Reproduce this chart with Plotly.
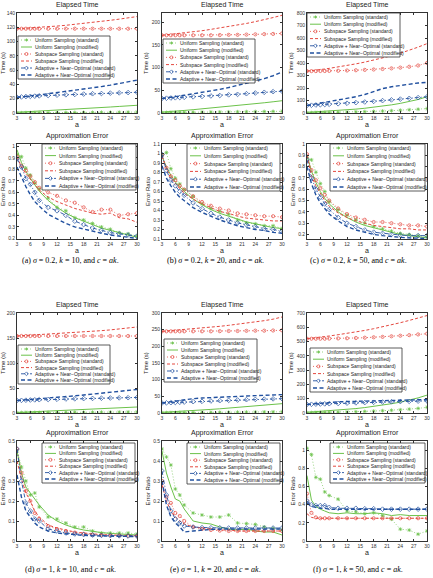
import plotly.graph_objects as go

W, H = 433, 578
A = [3, 4, 5, 6, 7, 8, 10, 12, 14, 16, 18, 20, 22, 24, 26, 28, 30]
X_TICKS = [3, 6, 9, 12, 15, 18, 21, 24, 27, 30]

LABELS = ["Uniform Sampling (standard)", "Uniform Sampling (modified)",
          "Subspace Sampling (standard)", "Subspace Sampling (modified)",
          "Adaptive + Near\u2212Optimal (standard)", "Adaptive + Near\u2212Optimal (modified)"]

# ---------------- (a) sigma=0.2, k=10 ----------------
TA_US = [0.3, 0.3, 0.4, 0.4, 0.4, 0.5, 0.5, 0.6, 0.7, 0.7, 0.8, 0.9, 1.0, 1.0, 1.1, 1.2, 1.3]
TA_UM = [1.0, 1.3, 1.7, 2.0, 2.3, 2.7, 3.3, 4.0, 4.7, 5.4, 6.1, 6.8, 7.6, 8.4, 9.2, 10.0, 10.8]
TA_SS = [118, 118, 118, 118, 118, 118, 118, 118, 118, 118, 118, 118, 118, 118, 118, 118, 118]
TA_SM = [118, 118.3, 118.6, 119, 119.4, 119.8, 120.7, 121.7, 122.8, 124, 125.3, 126.7, 128.2, 129.8, 131.4, 133.2, 135]
TA_AS = [22, 22.5, 23, 23.3, 23.6, 24, 24.5, 25, 25.5, 26, 26.5, 27, 27.3, 27.8, 28.2, 28.6, 29]
TA_AM = [22, 22.5, 23, 23.8, 24.5, 25.3, 27, 28.5, 30, 31.6, 33.3, 35, 37, 39, 41, 43.5, 46]
EA_US = [0.93, 0.91, 0.81, 0.75, 0.68, 0.63, 0.55, 0.47, 0.44, 0.38, 0.36, 0.33, 0.30, 0.28, 0.25, 0.24, 0.22]
EA_UM = [0.97, 0.86, 0.78, 0.72, 0.66, 0.61, 0.53, 0.47, 0.42, 0.38, 0.35, 0.32, 0.29, 0.27, 0.25, 0.23, 0.21]
EA_SS = [0.91, 0.83, 0.79, 0.74, 0.69, 0.64, 0.60, 0.57, 0.53, 0.51, 0.47, 0.43, 0.45, 0.45, 0.40, 0.41, 0.42]
EA_SM = [0.91, 0.82, 0.76, 0.71, 0.66, 0.62, 0.56, 0.52, 0.49, 0.46, 0.44, 0.42, 0.41, 0.42, 0.38, 0.37, 0.34]
EA_AS = [0.89, 0.82, 0.72, 0.67, 0.60, 0.53, 0.47, 0.44, 0.40, 0.35, 0.32, 0.29, 0.27, 0.25, 0.24, 0.23, 0.22]
EA_AM = [0.82, 0.73, 0.65, 0.58, 0.52, 0.48, 0.41, 0.37, 0.33, 0.30, 0.28, 0.26, 0.245, 0.23, 0.22, 0.21, 0.20]

# ---------------- (b) sigma=0.2, k=20 ----------------
TB_US = [1, 1, 1.2, 1.3, 1.4, 1.5, 1.7, 1.9, 2.1, 2.3, 2.5, 2.7, 2.9, 3.1, 3.3, 3.5, 3.7]
TB_UM = [2, 2.5, 3.2, 4, 4.8, 5.6, 7.3, 9, 10.8, 12.6, 14.4, 16.3, 18.3, 20.4, 22.5, 24.7, 27]
TB_SS = [171, 171, 171, 171, 171, 171, 171, 171, 171, 171.5, 172, 172, 172.5, 173, 173.5, 174, 175]
TB_SM = [171, 172, 173, 174, 175, 176, 178.5, 181, 184, 187, 190, 193.5, 197, 201, 205, 210, 215]
TB_AS = [32, 32.5, 33, 33.5, 34, 34.5, 35.5, 36.5, 37.5, 38.5, 40, 41, 42.5, 44, 45.5, 47, 48]
TB_AM = [32, 33, 34.5, 36, 37.5, 39, 42, 45, 48.5, 52, 56, 60.5, 65, 70, 75.5, 82, 90]
EB_US = [0.98, 1.01, 0.84, 0.74, 0.68, 0.62, 0.55, 0.47, 0.42, 0.39, 0.36, 0.30, 0.27, 0.26, 0.24, 0.24, 0.21]
EB_UM = [0.97, 0.86, 0.77, 0.70, 0.65, 0.60, 0.52, 0.46, 0.41, 0.37, 0.34, 0.31, 0.28, 0.26, 0.24, 0.22, 0.21]
EB_SS = [0.98, 0.85, 0.76, 0.72, 0.66, 0.62, 0.55, 0.49, 0.45, 0.42, 0.40, 0.37, 0.36, 0.35, 0.34, 0.34, 0.33]
EB_SM = [0.97, 0.84, 0.74, 0.68, 0.63, 0.58, 0.52, 0.47, 0.43, 0.39, 0.37, 0.34, 0.32, 0.31, 0.30, 0.29, 0.29]
EB_AS = [0.99, 0.82, 0.72, 0.66, 0.60, 0.56, 0.48, 0.42, 0.37, 0.33, 0.30, 0.27, 0.25, 0.23, 0.21, 0.20, 0.18]
EB_AM = [0.87, 0.74, 0.66, 0.59, 0.54, 0.50, 0.43, 0.38, 0.34, 0.30, 0.27, 0.24, 0.22, 0.20, 0.19, 0.17, 0.16]

# ---------------- (c) sigma=0.2, k=50 ----------------
TC_US = [2, 2.5, 3, 3.5, 4, 4.5, 5.5, 7, 9, 11, 13, 15.5, 18.5, 22, 26, 30, 35]
TC_UM = [5, 7, 9, 11, 13, 15, 20, 25, 31, 38, 46, 55, 65, 77, 90, 108, 130]
TC_SS = [335, 335, 335, 336, 336, 337, 338, 340, 342, 345, 348, 352, 357, 363, 370, 380, 400]
TC_SM = [335, 338, 342, 347, 352, 357, 368, 380, 393, 407, 422, 440, 458, 478, 500, 527, 555]
TC_AS = [60, 62, 64, 66, 68, 70, 74, 78, 83, 88, 93, 99, 105, 111, 117, 123, 130]
TC_AM = [60, 66, 72, 78, 84, 90, 102, 115, 130, 148, 170, 195, 210, 222, 232, 240, 245]
EC_US = [0.88, 0.86, 0.75, 0.65, 0.58, 0.49, 0.42, 0.37, 0.33, 0.30, 0.27, 0.25, 0.23, 0.21, 0.20, 0.19, 0.18]
EC_UM = [0.90, 0.76, 0.66, 0.58, 0.52, 0.47, 0.40, 0.35, 0.31, 0.28, 0.26, 0.24, 0.22, 0.20, 0.19, 0.18, 0.17]
EC_SS = [0.91, 0.77, 0.68, 0.61, 0.55, 0.50, 0.43, 0.38, 0.35, 0.33, 0.31, 0.31, 0.30, 0.29, 0.28, 0.28, 0.27]
EC_SM = [0.90, 0.72, 0.63, 0.56, 0.50, 0.45, 0.39, 0.35, 0.32, 0.30, 0.28, 0.27, 0.26, 0.25, 0.25, 0.24, 0.24]
EC_AS = [0.86, 0.70, 0.60, 0.53, 0.47, 0.42, 0.35, 0.30, 0.27, 0.24, 0.22, 0.21, 0.20, 0.195, 0.19, 0.19, 0.19]
EC_AM = [0.80, 0.65, 0.55, 0.48, 0.43, 0.38, 0.32, 0.27, 0.24, 0.22, 0.20, 0.19, 0.18, 0.175, 0.17, 0.17, 0.165]

# ---------------- (d) sigma=1, k=10 ----------------
TD_US = [0.8, 0.8, 0.9, 0.9, 1, 1, 1.1, 1.2, 1.3, 1.4, 1.5, 1.6, 1.7, 1.8, 1.9, 2.0, 2.1]
TD_UM = [1, 1.4, 1.8, 2.2, 2.6, 3, 3.7, 4.4, 5.1, 5.8, 6.6, 7.4, 8.2, 9.1, 10, 11, 12]
TD_SS = [154, 154, 154, 154, 154, 154, 154, 154, 154, 154, 154, 154, 154, 154, 154, 154, 154]
TD_SM = [154, 154.5, 155, 155.5, 156, 156.5, 157.5, 158.5, 159.5, 160.7, 162, 163.3, 164.7, 166.2, 167.8, 169.8, 172]
TD_AS = [25, 25.3, 25.6, 26, 26.3, 26.6, 27, 27.5, 28, 28.4, 28.8, 29.2, 29.6, 30, 30.3, 30.6, 31]
TD_AM = [25, 25.6, 26.2, 26.9, 27.6, 28.3, 29.8, 31.3, 32.8, 34.3, 36, 37.6, 39.3, 41.1, 43, 45, 47]
ED_US = [0.45, 0.37, 0.30, 0.23, 0.24, 0.17, 0.12, 0.11, 0.09, 0.07, 0.07, 0.05, 0.04, 0.04, 0.04, 0.04, 0.035]
ED_UM = [0.45, 0.34, 0.27, 0.24, 0.21, 0.18, 0.13, 0.10, 0.08, 0.065, 0.055, 0.048, 0.042, 0.038, 0.035, 0.032, 0.03]
ED_SS = [0.46, 0.34, 0.25, 0.20, 0.14, 0.11, 0.075, 0.06, 0.05, 0.042, 0.036, 0.032, 0.03, 0.028, 0.027, 0.026, 0.025]
ED_SM = [0.40, 0.31, 0.24, 0.20, 0.15, 0.12, 0.08, 0.065, 0.055, 0.045, 0.04, 0.035, 0.032, 0.03, 0.028, 0.027, 0.026]
ED_AS = [0.46, 0.30, 0.19, 0.15, 0.11, 0.10, 0.06, 0.05, 0.04, 0.035, 0.032, 0.03, 0.028, 0.027, 0.026, 0.025, 0.025]
ED_AM = [0.33, 0.22, 0.15, 0.12, 0.09, 0.07, 0.05, 0.04, 0.035, 0.03, 0.028, 0.026, 0.025, 0.024, 0.023, 0.023, 0.022]

# ---------------- (e) sigma=1, k=20 ----------------
TE_US = [1, 1, 1.1, 1.2, 1.3, 1.4, 1.6, 1.8, 2, 2.2, 2.4, 2.6, 2.8, 3, 3.2, 3.4, 3.6]
TE_UM = [2, 2.6, 3.3, 4, 4.8, 5.6, 7.3, 9, 10.8, 12.6, 14.5, 16.5, 18.5, 20.7, 23, 25.4, 28]
TE_SS = [245, 245, 245, 245, 245, 245, 245, 245, 245, 245.5, 246, 246, 246.5, 247, 247, 247.5, 248]
TE_SM = [245, 246, 247, 248, 249, 250, 252, 254.5, 257, 260, 263, 266, 269.5, 273, 277, 281.5, 288]
TE_AS = [30, 30.5, 31, 31.6, 32.2, 32.8, 34, 35, 36, 37, 38, 39, 40, 40.8, 41.6, 42.4, 43]
TE_AM = [30, 32, 34, 36, 38, 40, 43, 45, 46.5, 48, 49, 50, 51, 52, 53, 54, 55]
EE_US = [0.46, 0.42, 0.38, 0.26, 0.23, 0.18, 0.14, 0.13, 0.12, 0.12, 0.13, 0.09, 0.087, 0.083, 0.07, 0.063, 0.055]
EE_UM = [0.45, 0.34, 0.27, 0.21, 0.20, 0.16, 0.10, 0.09, 0.085, 0.07, 0.06, 0.055, 0.06, 0.05, 0.045, 0.045, 0.03]
EE_SS = [0.30, 0.22, 0.19, 0.14, 0.125, 0.10, 0.07, 0.06, 0.055, 0.052, 0.05, 0.05, 0.05, 0.05, 0.05, 0.05, 0.05]
EE_SM = [0.28, 0.20, 0.15, 0.12, 0.10, 0.085, 0.07, 0.065, 0.06, 0.055, 0.055, 0.05, 0.05, 0.05, 0.05, 0.05, 0.05]
EE_AS = [0.35, 0.23, 0.15, 0.11, 0.09, 0.075, 0.07, 0.067, 0.066, 0.066, 0.065, 0.065, 0.065, 0.065, 0.065, 0.065, 0.065]
EE_AM = [0.30, 0.18, 0.12, 0.09, 0.07, 0.045, 0.05, 0.055, 0.058, 0.06, 0.06, 0.06, 0.06, 0.06, 0.06, 0.06, 0.06]

# ---------------- (f) sigma=1, k=50 ----------------
TF_US = [2, 2.5, 3, 3.5, 4, 4.5, 5.5, 7, 9, 11, 13.5, 16, 19, 22.5, 27, 32, 40]
TF_UM = [5, 7, 9, 11, 13, 15, 20, 25, 31, 38, 46, 55, 65, 76, 90, 106, 125]
TF_SS = [520, 520, 520, 520, 520, 521, 522, 523, 525, 527, 530, 533, 537, 541, 545, 550, 555]
TF_SM = [520, 523, 527, 531, 535, 539, 548, 557, 567, 578, 590, 603, 617, 632, 648, 664, 682]
TF_AS = [60, 61, 62, 63, 64, 65, 67, 69, 71, 73, 75, 77, 78.5, 80, 81.5, 83, 85]
TF_AM = [60, 63, 66, 69, 72, 75, 78, 80, 82, 84, 86, 87.5, 89, 90.5, 92, 93, 94]
EF_US = [1.02, 0.95, 0.70, 0.68, 0.54, 0.50, 0.46, 0.33, 0.32, 0.30, 0.31, 0.28, 0.24, 0.13, 0.12, 0.075, 0.11]
EF_UM = [0.72, 0.45, 0.38, 0.35, 0.33, 0.31, 0.30, 0.31, 0.30, 0.30, 0.31, 0.30, 0.28, 0.29, 0.28, 0.28, 0.28]
EF_SS = [0.52, 0.31, 0.26, 0.25, 0.25, 0.25, 0.25, 0.25, 0.25, 0.25, 0.25, 0.25, 0.25, 0.25, 0.25, 0.25, 0.25]
EF_SM = [0.30, 0.26, 0.25, 0.25, 0.25, 0.25, 0.25, 0.25, 0.25, 0.25, 0.25, 0.25, 0.25, 0.25, 0.25, 0.25, 0.25]
EF_AS = [0.44, 0.40, 0.39, 0.39, 0.39, 0.37, 0.36, 0.36, 0.36, 0.355, 0.355, 0.35, 0.35, 0.35, 0.35, 0.35, 0.35]
EF_AM = [0.42, 0.38, 0.37, 0.36, 0.36, 0.35, 0.35, 0.35, 0.35, 0.35, 0.35, 0.35, 0.35, 0.35, 0.35, 0.35, 0.35]

CAPTIONS = ["(a) <i>\u03c3</i> = 0.2, <i>k</i> = 10, and <i>c</i> = <i>ak</i>.",
            "(b) <i>\u03c3</i> = 0.2, <i>k</i> = 20, and <i>c</i> = <i>ak</i>.",
            "(c) <i>\u03c3</i> = 0.2, <i>k</i> = 50, and <i>c</i> = <i>ak</i>.",
            "(d) <i>\u03c3</i> = 1, <i>k</i> = 10, and <i>c</i> = <i>ak</i>.",
            "(e) <i>\u03c3</i> = 1, <i>k</i> = 20, and <i>c</i> = <i>ak</i>.",
            "(f) <i>\u03c3</i> = 1, <i>k</i> = 50, and <i>c</i> = <i>ak</i>."]

GREEN = "#6cc24a"
RED = "#e4483f"
BLUE = "#21509f"
FONT = "Liberation Sans, Arial, sans-serif"

STY = [
    dict(color=GREEN, dash="1px,2px", width=0.7, symbol="asterisk-open", msize=3.2),
    dict(color=GREEN, dash="solid", width=1.0, symbol=None, msize=0),
    dict(color=RED, dash="1px,2px", width=0.8, symbol="circle-open", msize=3.2),
    dict(color=RED, dash="3px,2px", width=1.0, symbol=None, msize=0),
    dict(color=BLUE, dash="4px,2px,1px,2px", width=0.9, symbol="diamond-open", msize=3.6),
    dict(color=BLUE, dash="4px,2.5px", width=1.4, symbol=None, msize=0),
]

COLS = [(17, 137), (162, 282), (307, 427)]
ROWS = [(13, 113), (144, 239), (313, 413), (441, 541)]

# panel: (row, col, series, y range, dtick, y title, title, legend box in px)
PANELS = [
    (0, 0, [TA_US, TA_UM, TA_SS, TA_SM, TA_AS, TA_AM], [0, 140], 20, "Time (s)", "Elapsed Time", (18, 36, 110, 79)),
    (0, 1, [TB_US, TB_UM, TB_SS, TB_SM, TB_AS, TB_AM], [0, 220], 50, "Time (s)", "Elapsed Time", (163, 39, 255, 83)),
    (0, 2, [TC_US, TC_UM, TC_SS, TC_SM, TC_AS, TC_AM], [0, 800], 100, "Time (s)", "Elapsed Time", (307, 13, 400, 57)),
    (1, 0, [EA_US, EA_UM, EA_SS, EA_SM, EA_AS, EA_AM], [0.195, 1.02], 0.1, "Error Ratio", "Approximation Error", (42, 144, 136, 190)),
    (1, 1, [EB_US, EB_UM, EB_SS, EB_SM, EB_AS, EB_AM], [0.1, 1.1], 0.1, "Error Ratio", "Approximation Error", (187, 144, 280, 191)),
    (1, 2, [EC_US, EC_UM, EC_SS, EC_SM, EC_AS, EC_AM], [0.16, 1.0], 0.1, "Error Ratio", "Approximation Error", (330, 144, 425, 191)),
    (2, 0, [TD_US, TD_UM, TD_SS, TD_SM, TD_AS, TD_AM], [0, 200], 50, "Time (s)", "Elapsed Time", (18, 345, 110, 384)),
    (2, 1, [TE_US, TE_UM, TE_SS, TE_SM, TE_AS, TE_AM], [0, 300], 50, "Time (s)", "Elapsed Time", (164, 339, 257, 382)),
    (2, 2, [TF_US, TF_UM, TF_SS, TF_SM, TF_AS, TF_AM], [0, 700], 100, "Time (s)", "Elapsed Time", (310, 348, 402, 392)),
    (3, 0, [ED_US, ED_UM, ED_SS, ED_SM, ED_AS, ED_AM], [0, 0.5], 0.1, "Error Ratio", "Approximation Error", (42, 443, 135, 483)),
    (3, 1, [EE_US, EE_UM, EE_SS, EE_SM, EE_AS, EE_AM], [0, 0.5], 0.1, "Error Ratio", "Approximation Error", (187, 443, 280, 484)),
    (3, 2, [EF_US, EF_UM, EF_SS, EF_SM, EF_AS, EF_AM], [0, 1.1], 0.2, "Error Ratio", "Approximation Error", (330, 443, 425, 483)),
]


def fx(x):
    return x / W


def fy(y):
    return 1 - y / H


fig = go.Figure()
layout = dict(width=W, height=H, margin=dict(l=0, r=0, t=0, b=0),
              paper_bgcolor="white", plot_bgcolor="white", showlegend=False,
              font=dict(family=FONT, color="#222"))
shapes = []
annotations = []

for i, (r, c, series, yr, dt, ytitle, title, box) in enumerate(PANELS):
    n = i + 1
    xa = "x" if n == 1 else f"x{n}"
    ya = "y" if n == 1 else f"y{n}"
    x0p, x1p = COLS[c]
    y0p, y1p = ROWS[r]
    common = dict(showline=True, linecolor="#333", linewidth=0.8, mirror="ticks",
                  ticks="inside", ticklen=2, tickwidth=0.6, tickcolor="#333",
                  showgrid=False, zeroline=False, automargin=False,
                  tickfont=dict(size=5, color="#333", family=FONT))
    layout[f"xaxis{n}"] = dict(domain=[fx(x0p), fx(x1p)], anchor=ya, range=[3, 30],
                               tickvals=X_TICKS, title=dict(text="a", font=dict(size=7), standoff=2),
                               **common)
    layout[f"yaxis{n}"] = dict(domain=[fy(y1p), fy(y0p)], anchor=xa, range=yr, dtick=dt, tick0=0,
                               title=dict(text=ytitle, font=dict(size=6), standoff=2),
                               **common)
    for s, vals in enumerate(series):
        st = STY[s]
        mode = "lines+markers" if st["symbol"] else "lines"
        tr = dict(x=A, y=vals, mode=mode, xaxis=xa, yaxis=ya, name=LABELS[s],
                  line=dict(color=st["color"], dash=st["dash"], width=st["width"]))
        if st["symbol"]:
            tr["marker"] = dict(symbol=st["symbol"], size=st["msize"], color=st["color"],
                                line=dict(color=st["color"], width=0.7))
        fig.add_trace(go.Scatter(**tr))

    # title
    annotations.append(dict(text=title, x=fx((x0p + x1p) / 2), y=fy(y0p - 2), xref="paper", yref="paper",
                            xanchor="center", yanchor="bottom", showarrow=False,
                            font=dict(size=7, color="#222", family=FONT)))

    # legend box
    bx0, by0, bx1, by1 = box
    shapes.append(dict(type="rect", xref="paper", yref="paper", x0=fx(bx0), x1=fx(bx1),
                       y0=fy(by1), y1=fy(by0), line=dict(color="#333", width=0.8),
                       fillcolor="white", layer="above"))
    pitch = (by1 - by0 - 8) / 5.0
    for s in range(6):
        st = STY[s]
        yc = by0 + 4 + s * pitch
        shapes.append(dict(type="line", xref="paper", yref="paper", x0=fx(bx0 + 3), x1=fx(bx0 + 14),
                           y0=fy(yc), y1=fy(yc),
                           line=dict(color=st["color"], width=st["width"], dash=st["dash"]), layer="above"))
        xm, ym = fx(bx0 + 8.5), fy(yc)
        pm = dict(xref="paper", yref="paper", xsizemode="pixel", ysizemode="pixel",
                  xanchor=xm, yanchor=ym, layer="above",
                  line=dict(color=st["color"], width=0.7))
        if st["symbol"] == "circle-open":
            shapes.append(dict(type="circle", x0=-1.5, x1=1.5, y0=-1.5, y1=1.5, **pm))
        elif st["symbol"] == "diamond-open":
            shapes.append(dict(type="path", path="M -1.9,0 L 0,1.9 L 1.9,0 L 0,-1.9 Z", **pm))
        elif st["symbol"] == "asterisk-open":
            shapes.append(dict(type="path",
                               path="M -1.6,0 L 1.6,0 M 0,-1.6 L 0,1.6 M -1.1,-1.1 L 1.1,1.1 M -1.1,1.1 L 1.1,-1.1",
                               **pm))
        annotations.append(dict(text=LABELS[s], x=fx(bx0 + 15), y=fy(yc), xref="paper", yref="paper",
                                xanchor="left", yanchor="middle", showarrow=False,
                                font=dict(size=5, color="#222", family=FONT)))

# captions
CAP_X = [70, 215, 358]
CAP_Y = [261, 569]
for j, cap in enumerate(CAPTIONS):
    annotations.append(dict(text=cap, x=fx(CAP_X[j % 3]), y=fy(CAP_Y[j // 3]), xref="paper", yref="paper",
                            xanchor="center", yanchor="middle", showarrow=False,
                            font=dict(size=8, color="#000000", family="Liberation Serif, Times New Roman, serif")))

layout["shapes"] = shapes
layout["annotations"] = annotations
fig.update_layout(**layout)
fig.write_html("out.html")
